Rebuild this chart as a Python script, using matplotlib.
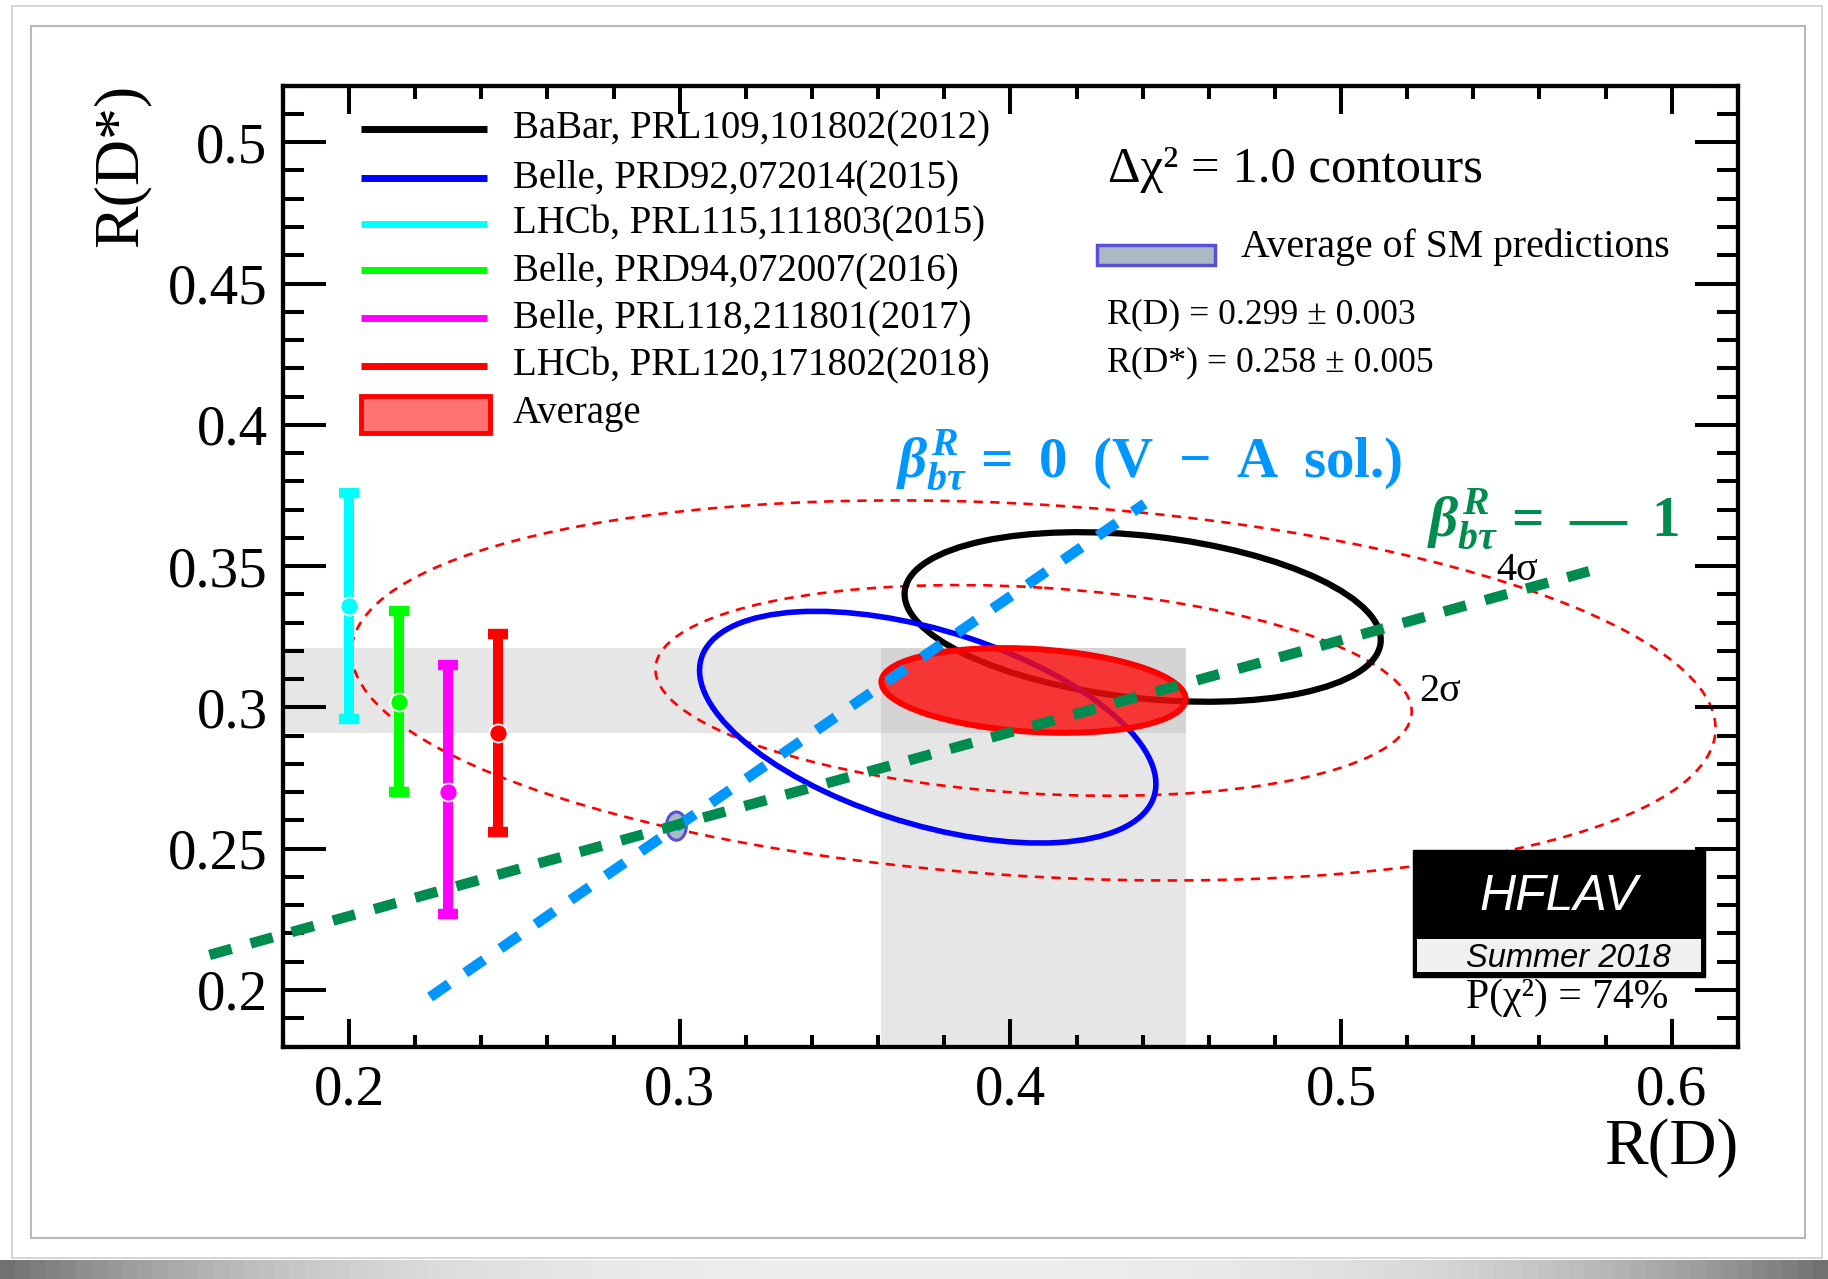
import numpy as np
import matplotlib
matplotlib.use("Agg")
import matplotlib.pyplot as plt
from matplotlib.patches import Ellipse, Rectangle
from matplotlib.collections import PatchCollection
from matplotlib.ticker import MultipleLocator, FixedLocator, FixedFormatter

# ------------------------------------------------------------------ data
# 2D measurements of R(D), R(D*) (total uncertainty, correlation)
ell_names = ["BaBar, PRL109,101802(2012)", "Belle, PRD92,072014(2015)"]
ell_rd = [0.440, 0.375]
ell_rd_err = [0.072, 0.069]
ell_rds = [0.332, 0.293]
ell_rds_err = [0.030, 0.041]
ell_corr = [-0.27, -0.49]
ell_colors = ["#000000", "#0000ff"]

# R(D*)-only measurements (drawn as error bars)
bar_names = ["LHCb, PRL115,111803(2015)", "Belle, PRD94,072007(2016)",
             "Belle, PRL118,211801(2017)", "LHCb, PRL120,171802(2018)"]
bar_x = [0.200, 0.215, 0.230, 0.245]
bar_rds = [0.336, 0.302, 0.270, 0.291]
bar_err_lo = [0.040, 0.032, 0.043, 0.035]
bar_err_hi = [0.040, 0.032, 0.045, 0.035]
bar_colors = ["#00ffff", "#00ff00", "#ff00ff", "#ff0000"]

# HFLAV average
avg_rd, avg_rd_err = 0.407, 0.046
avg_rds, avg_rds_err = 0.306, 0.015
avg_corr = -0.20
contour_dchi2 = [6.18, 20.1]
contour_labels = ["2σ", "4σ"]
contour_label_x = [0.5299, 0.5532]
contour_label_y = [0.3058, 0.3483]

# SM prediction average
sm_rd, sm_rd_err = 0.299, 0.003
sm_rds, sm_rds_err = 0.258, 0.005
sm_corr = 0.0

# new-physics lines through the SM point
line_va_x = [0.2245, 0.4406]
line_va_y = [0.1975, 0.3721]
line_m1_x = [0.1578, 0.5750]
line_m1_y = [0.2124, 0.3482]

xticks = [0.2, 0.3, 0.4, 0.5, 0.6]
xticklabels = ["0.2", "0.3", "0.4", "0.5", "0.6"]
yticks = [0.2, 0.25, 0.3, 0.35, 0.4, 0.45, 0.5]
yticklabels = ["0.2", "0.25", "0.3", "0.35", "0.4", "0.45", "0.5"]

# ------------------------------------------------------------------ style
plt.rcParams["font.family"] = ["Liberation Serif", "DejaVu Serif"]
plt.rcParams["mathtext.fontset"] = "custom"
plt.rcParams["mathtext.it"] = "Liberation Serif:bold:italic"
plt.rcParams["mathtext.rm"] = "Liberation Serif:bold"
plt.rcParams["mathtext.bf"] = "Liberation Serif:bold"

W, H = 1828, 1279
fig = plt.figure(figsize=(W / 100, H / 100), dpi=100)
fig.patch.set_facecolor("white")

# page/card frame decoration
fig.add_artist(Rectangle((12 / W, 1 - 1258 / H), (1822 - 12) / W, (1258 - 6) / H,
                         transform=fig.transFigure, fill=False, ec="#d0d0d0", lw=1.2))
fig.add_artist(Rectangle((31 / W, 1 - 1238 / H), (1805 - 31) / W, (1238 - 26) / H,
                         transform=fig.transFigure, fill=False, ec="#b8b8b8", lw=1.5))
# soft page-curl shadow along the bottom edge (columns of grey)
n_col = 120
col_edges = np.linspace(0, 1, n_col + 1)
col_mid = 0.5 * (col_edges[:-1] + col_edges[1:])
col_grey = 0.93 - 0.50 * np.abs(2 * col_mid - 1) ** 3
shadow = PatchCollection(
    [Rectangle((col_edges[i], 0), 1 / n_col + 1e-4, 19 / H) for i in range(n_col)],
    transform=fig.transFigure, facecolors=[(g, g, g) for g in col_grey],
    edgecolors="none", zorder=0)
fig.add_artist(shadow)

ax = fig.add_axes([282.9 / W, 1 - 1046.5 / H, 1455 / W, 960.8 / H])
ax.set_xlim(0.18, 0.62)
ax.set_ylim(0.18, 0.52)


def cov_ellipse(x, y, sx, sy, rho, k, **kw):
    cov = np.array([[sx * sx, rho * sx * sy], [rho * sx * sy, sy * sy]])
    vals, vecs = np.linalg.eigh(cov)
    order = vals.argsort()[::-1]
    vals, vecs = vals[order], vecs[:, order]
    angle = np.degrees(np.arctan2(vecs[1, 0], vecs[0, 0]))
    w, h = 2 * k * np.sqrt(vals)
    return Ellipse((x, y), w, h, angle=angle, **kw)


# grey bands of the average
band_c = (0.65, 0.65, 0.65, 0.28)
ax.axhspan(avg_rds - avg_rds_err, avg_rds + avg_rds_err, xmin=0,
           xmax=(avg_rd + avg_rd_err - 0.18) / 0.44, color=band_c, lw=0, zorder=0.5)
ax.axvspan(avg_rd - avg_rd_err, avg_rd + avg_rd_err, ymin=0,
           ymax=(avg_rds + avg_rds_err - 0.18) / 0.34, color=band_c, lw=0, zorder=0.5)

# 2 sigma / 4 sigma contours of the average
for d2, lab, lx, ly in zip(contour_dchi2, contour_labels, contour_label_x, contour_label_y):
    e = cov_ellipse(avg_rd, avg_rds, avg_rd_err, avg_rds_err, avg_corr, np.sqrt(d2),
                    fill=False, ec="#ff0000", lw=1.9, ls=(0, (3.5, 2.8)), zorder=1.5)
    ax.add_patch(e)
    ax.text(lx, ly, lab, fontsize=29, ha="center", va="center", zorder=4)

# R(D*)-only error bars: bar, caps, central marker
for x, y, lo, hi, c in zip(bar_x, bar_rds, bar_err_lo, bar_err_hi, bar_colors):
    ax.vlines(x, y - lo, y + hi, colors=c, linewidth=7.2, zorder=2)
    ax.plot([x, x], [y - lo, y + hi], ls="none", marker="_", ms=14, mew=7.5,
            color=c, zorder=2)
    ax.plot([x], [y], ls="none", marker="o", ms=13, mfc=c, mec="white", mew=1.3,
            zorder=2.05)

# 2D measurement ellipses
for x, sx, y, sy, r, c, lw in zip(ell_rd, ell_rd_err, ell_rds, ell_rds_err, ell_corr,
                                  ell_colors, [4.5, 4.0]):
    ax.add_patch(cov_ellipse(x, y, sx, sy, r, 1.0, fill=False, ec=c, lw=lw, zorder=2.2))

# average
ax.add_patch(cov_ellipse(avg_rd, avg_rds, avg_rd_err, avg_rds_err, avg_corr, 1.0,
                         fc=(1, 0.05, 0.05, 0.8), ec="#ff0000", lw=4.3, zorder=2.4))

# SM prediction
ax.add_patch(cov_ellipse(sm_rd, sm_rds, sm_rd_err, sm_rds_err, sm_corr, 1.0,
                         fc="#aab9c3", ec="#5a4fd8", lw=2.2, zorder=2.5))

# NP lines
ax.plot(line_va_x, line_va_y, color="#0096ff", lw=7.5, dashes=(2.2, 1.9),
        dash_capstyle="butt", zorder=2.8)
ax.plot(line_m1_x, line_m1_y, color="#008c4e", lw=7.5, dashes=(2.2, 1.9),
        dash_capstyle="butt", zorder=2.8, clip_on=False)

sp = " \u2009"
ax.text(0.3654, 0.3812, r"$\beta^{R}_{b\tau}$ =" + sp + "0" + sp + "(V" + sp + "−" + sp
        + "A" + sp + "sol.)", color="#0096ff",
        fontsize=41, fontweight="bold", ha="left", va="baseline", zorder=4)
ax.text(0.5260, 0.3603, r"$\beta^{R}_{b\tau}$ =" + sp + "—" + sp + "1", color="#008c4e",
        fontsize=41, fontweight="bold", ha="left", va="baseline", zorder=4)

# ------------------------------------------------------------------ axes styling
for s in ax.spines.values():
    s.set_linewidth(3.1)
ax.xaxis.set_major_locator(FixedLocator(xticks))
ax.xaxis.set_major_formatter(FixedFormatter(xticklabels))
ax.yaxis.set_major_locator(FixedLocator(yticks))
ax.yaxis.set_major_formatter(FixedFormatter(yticklabels))
ax.xaxis.set_minor_locator(MultipleLocator(0.02))
ax.yaxis.set_minor_locator(MultipleLocator(0.01))
ax.tick_params(axis="both", which="both", direction="in", top=True, right=True,
               width=2.9, labelsize=41)
ax.tick_params(axis="x", which="major", length=20, pad=13)
ax.tick_params(axis="x", which="minor", length=9)
ax.tick_params(axis="y", which="major", length=31, pad=11)
ax.tick_params(axis="y", which="minor", length=15)

ax.set_xlabel("R(D)", fontsize=47, loc="right")
ax.xaxis.label.set(va="center")
ax.xaxis.set_label_coords(1.0, -0.1056)
ax.set_ylabel("R(D*)", fontsize=46, loc="top")
ax.yaxis.label.set(rotation=90, rotation_mode="default", ha="center", va="top")
ax.yaxis.set_label_coords(-0.1106, 1.002)

# ------------------------------------------------------------------ legend (ROOT style)
leg_names = ell_names + bar_names
leg_colors = ell_colors + bar_colors
leg_rows = [0.9545, 0.9035, 0.8563, 0.8077, 0.7579, 0.7083]
for name, c, ry in zip(leg_names, leg_colors, leg_rows):
    ax.plot([0.0537, 0.1403], [ry, ry], transform=ax.transAxes, color=c, lw=5,
            solid_capstyle="butt", zorder=4)
    ax.text(0.1581, ry, name, transform=ax.transAxes, fontsize=28, va="center",
            ha="left", zorder=4)
ax.add_patch(Rectangle((0.0537, 0.6385), 0.0886, 0.0385, transform=ax.transAxes,
                       fc="#ff7272", ec="#ff0000", lw=3.5, zorder=4))
ax.text(0.1581, 0.6584, "Average", transform=ax.transAxes, fontsize=28,
        va="center", ha="left", zorder=4)

ax.text(0.5671, 0.9123, "Δχ² = 1.0 contours", transform=ax.transAxes, fontsize=36.5,
        va="center", ha="left", zorder=4)
ax.add_patch(Rectangle((0.5597, 0.8134), 0.0811, 0.0208, transform=ax.transAxes,
                       fc="#aab9c3", ec="#5a4fd8", lw=2.5, zorder=4))
ax.text(0.6585, 0.8322, "Average of SM predictions", transform=ax.transAxes,
        fontsize=28.6, va="center", ha="left", zorder=4)
ax.text(0.5664, 0.7614, f"R(D) = {sm_rd:.3f} ± {sm_rd_err:.3f}", transform=ax.transAxes,
        fontsize=25.7, va="center", ha="left", zorder=4)
ax.text(0.5664, 0.7113, f"R(D*) = {sm_rds:.3f} ± {sm_rds_err:.3f}", transform=ax.transAxes,
        fontsize=25.7, va="center", ha="left", zorder=4)

# HFLAV logo box
ax.add_patch(Rectangle((0.7765, 0.0726), 0.2009, 0.1319, transform=ax.transAxes,
                       fc="black", ec="black", lw=1, zorder=5, clip_on=False))
ax.add_patch(Rectangle((0.7793, 0.0775), 0.1952, 0.0344, transform=ax.transAxes,
                       fc="#f0f0f0", ec="none", zorder=5.1, clip_on=False))
ax.text(0.8771, 0.1556, "HFLAV", transform=ax.transAxes, fontsize=36, color="white",
        family="Liberation Sans", style="italic", ha="center", va="center", zorder=6)
ax.text(0.8832, 0.0921, "Summer 2018", transform=ax.transAxes, fontsize=23.5,
        family="Liberation Sans", style="italic", ha="center", va="center", zorder=6)
ax.text(0.8825, 0.0505, "P(χ²) = 74%", transform=ax.transAxes, fontsize=30,
        ha="center", va="center", zorder=6)

fig.savefig("out.png", dpi=100, facecolor="white")
